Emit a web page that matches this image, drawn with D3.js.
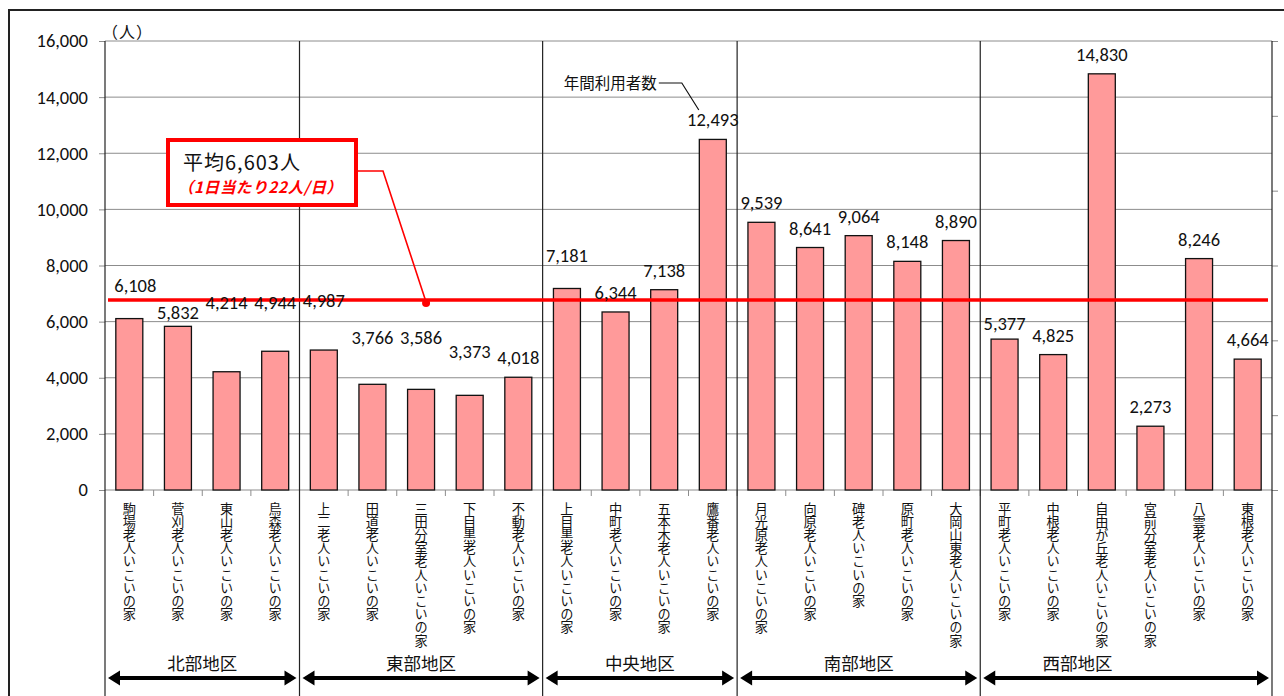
<!DOCTYPE html>
<html>
<head>
<meta charset="utf-8">
<script src="https://cdn.jsdelivr.net/npm/d3@7"></script>
<style>
  body { margin: 0; background: #fff; }
  svg { display: block; }
  .vlabel { writing-mode: vertical-rl; text-orientation: upright; }
</style>
</head>
<body>
<svg id="chart" width="1284" height="696"></svg>
<script>
const names = [
  '駒場老人いこいの家', '菅刈老人いこいの家', '東山老人いこいの家', '烏森老人いこいの家',
  '上二老人いこいの家', '田道老人いこいの家', '三田分室老人いこいの家', '下目黒老人いこいの家', '不動老人いこいの家',
  '上目黒老人いこいの家', '中町老人いこいの家', '五本木老人いこいの家', '鷹番老人いこいの家',
  '月光原老人いこいの家', '向原老人いこいの家', '碑老人いこいの家', '原町老人いこいの家', '大岡山東老人いこいの家',
  '平町老人いこいの家', '中根老人いこいの家', '自由が丘老人いこいの家', '宮前分室老人いこいの家', '八雲老人いこいの家', '東根老人いこいの家'
];
const values = [
  6108, 5832, 4214, 4944,
  4987, 3766, 3586, 3373, 4018,
  7181, 6344, 7138, 12493,
  9539, 8641, 9064, 8148, 8890,
  5377, 4825, 14830, 2273, 8246, 4664
];
const groups = ['北部地区', '東部地区', '中央地区', '南部地区', '西部地区'];
const groupSizes = [4, 5, 4, 5, 6];
const yTicks = [0, 2000, 4000, 6000, 8000, 10000, 12000, 14000, 16000];
const average = 6603;
const avgLineLevel = 6770; // where the red line sits in the picture
const perDay = 22;

// hand-moved data labels (px), keyed by category index
const labelShift = {
  0: [6, -14], 1: [0, 6], 2: [0, -50], 3: [0, -29], 4: [0, -30],
  5: [0, -27], 6: [0, -32], 7: [0, -24], 9: [0, -13], 18: [0, 4]
};
// label position inside each group, in bands from group start
const groupLabelAt = [2, 2.5, 2, 2.5, 2];

const num = d3.format(',');
const latin = 'Carlito, Calibri, Lato, sans-serif';
const cjk = '"Noto Sans CJK JP", sans-serif';

const svg = d3.select('#chart');
const plot = { left: 105, right: 1272, top: 41, bottom: 490 };

const x = d3.scaleBand().domain(d3.range(names.length)).range([plot.left, plot.right]).padding(0);
const y = d3.scaleLinear().domain([0, 16000]).range([plot.bottom, plot.top]);
const barW = x.bandwidth() * 0.555;

// outer frame
svg.append('rect')
  .attr('x', 9).attr('y', 10).attr('width', 1300).attr('height', 720)
  .attr('fill', 'none').attr('stroke', '#222').attr('stroke-width', 2);

// gridlines
svg.append('g')
  .selectAll('line')
  .data(yTicks.slice(1))
  .join('line')
  .attr('x1', plot.left).attr('x2', plot.right)
  .attr('y1', d => y(d)).attr('y2', d => y(d))
  .attr('stroke', '#8c8c8c').attr('stroke-width', 1);

// left axis
const yAxis = svg.append('g')
  .attr('transform', `translate(${plot.left},0)`)
  .call(d3.axisLeft(y).tickValues(yTicks).tickFormat(num).tickSize(6).tickPadding(11));
yAxis.select('.domain').remove();
yAxis.selectAll('.tick line').attr('stroke', '#8c8c8c');
yAxis.selectAll('.tick text')
  .attr('font-family', latin).attr('font-size', 18.5).attr('fill', '#111');

// secondary right axis (labels cut off in the source)
const y2 = d3.scaleLinear().domain([0, 6]).range([plot.bottom, plot.top]);
const y2Axis = svg.append('g')
  .attr('transform', `translate(${plot.right},0)`)
  .call(d3.axisRight(y2).ticks(6).tickFormat('').tickSize(6));
y2Axis.select('.domain').remove();
y2Axis.selectAll('.tick line').attr('stroke', '#8c8c8c');

// x baseline and ticks between categories
svg.append('line')
  .attr('x1', plot.left).attr('x2', plot.right)
  .attr('y1', plot.bottom).attr('y2', plot.bottom)
  .attr('stroke', '#8c8c8c');
svg.append('g')
  .selectAll('line')
  .data(d3.range(1, names.length))
  .join('line')
  .attr('x1', d => x(d)).attr('x2', d => x(d))
  .attr('y1', plot.bottom).attr('y2', plot.bottom + 6)
  .attr('stroke', '#8c8c8c');

// group dividers
const bounds = [0];
groupSizes.forEach(n => bounds.push(bounds[bounds.length - 1] + n));
const boundX = i => (i < names.length ? x(i) : plot.right);

svg.append('g')
  .selectAll('line')
  .data(bounds)
  .join('line')
  .attr('x1', d => boundX(d)).attr('x2', d => boundX(d))
  .attr('y1', plot.top).attr('y2', 700)
  .attr('stroke', '#222').attr('stroke-width', 1.2);

// bars
svg.append('g')
  .selectAll('rect')
  .data(values)
  .join('rect')
  .attr('x', (d, i) => x(i) + (x.bandwidth() - barW) / 2)
  .attr('y', d => y(d))
  .attr('width', barW)
  .attr('height', d => y(0) - y(d))
  .attr('fill', '#ff9a9a')
  .attr('stroke', '#111')
  .attr('stroke-width', 1.3);

// average line
svg.append('line')
  .attr('x1', plot.left + 3).attr('x2', plot.right - 4)
  .attr('y1', y(avgLineLevel)).attr('y2', y(avgLineLevel))
  .attr('stroke', '#ff0000').attr('stroke-width', 3.5);

// value labels
svg.append('g')
  .selectAll('text')
  .data(values)
  .join('text')
  .attr('x', (d, i) => x(i) + x.bandwidth() / 2 + (labelShift[i] ? labelShift[i][0] : 0))
  .attr('y', (d, i) => y(d) - 13 + (labelShift[i] ? labelShift[i][1] : 0))
  .attr('text-anchor', 'middle')
  .attr('font-family', latin).attr('font-size', 18.5).attr('fill', '#111')
  .text(d => num(d));

// vertical category labels
svg.append('g')
  .selectAll('text')
  .data(names)
  .join('text')
  .attr('class', 'vlabel')
  .attr('x', (d, i) => x(i) + x.bandwidth() / 2)
  .attr('y', plot.bottom + 12)
  .attr('font-family', cjk).attr('font-size', 13.2).attr('fill', '#111')
  .text(d => d);

// group labels and arrows
const arrowY = 678;
const head = (x0, dir) => {
  const L = 12, H = 7.5;
  return `M${x0},${arrowY} L${x0 + dir * L},${arrowY - H} L${x0 + dir * L},${arrowY + H} Z`;
};
groups.forEach((g, gi) => {
  const x0 = boundX(bounds[gi]) + 3;
  const x1 = boundX(bounds[gi + 1]) - 3;
  svg.append('line')
    .attr('x1', x0 + 8).attr('x2', x1 - 8)
    .attr('y1', arrowY).attr('y2', arrowY)
    .attr('stroke', '#000').attr('stroke-width', 4);
  svg.append('path').attr('d', head(x0, 1)).attr('fill', '#000');
  svg.append('path').attr('d', head(x1, -1)).attr('fill', '#000');
  svg.append('text')
    .attr('x', x(bounds[gi]) + groupLabelAt[gi] * x.bandwidth())
    .attr('y', 670)
    .attr('text-anchor', 'middle')
    .attr('font-family', cjk).attr('font-size', 17.5).attr('fill', '#111')
    .text(g);
});

// unit
svg.append('text')
  .attr('x', plot.left - 3).attr('y', 38)
  .attr('font-family', cjk).attr('font-size', 16).attr('fill', '#111')
  .attr('letter-spacing', 1)
  .text('（人）');

// "年間利用者数" callout
const hawk = x(12) + x.bandwidth() / 2;
svg.append('text')
  .attr('x', hawk - 56).attr('y', 89)
  .attr('text-anchor', 'end')
  .attr('font-family', cjk).attr('font-size', 15.5).attr('fill', '#111')
  .text('年間利用者数');
svg.append('path')
  .attr('d', `M${hawk - 54},83 L${hawk - 31},83 L${hawk - 14},110`)
  .attr('fill', 'none').attr('stroke', '#111').attr('stroke-width', 1.2);

// average callout
const dotX = x(6) + x.bandwidth() / 2 + 5;
svg.append('path')
  .attr('d', `M357,171 L383,171 L${dotX},${y(avgLineLevel) + 2}`)
  .attr('fill', 'none').attr('stroke', '#ff0000').attr('stroke-width', 1.6);
svg.append('circle')
  .attr('cx', dotX).attr('cy', y(avgLineLevel) + 3).attr('r', 4)
  .attr('fill', '#ff0000');
svg.append('rect')
  .attr('x', 168).attr('y', 140).attr('width', 188).attr('height', 65)
  .attr('fill', '#fff').attr('stroke', '#ff0000').attr('stroke-width', 4);
svg.append('text')
  .attr('x', 183).attr('y', 170)
  .attr('font-family', cjk).attr('font-size', 20).attr('fill', '#111')
  .attr('letter-spacing', 1)
  .text(`平均${num(average)}人`);
svg.append('text')
  .attr('x', 178).attr('y', 193)
  .attr('font-family', cjk).attr('font-size', 15.5).attr('fill', '#ff0000')
  .attr('font-weight', 'bold').attr('font-style', 'italic')
  .attr('letter-spacing', 0.6)
  .text(`（1日当たり${perDay}人/日）`);
</script>
</body>
</html>
